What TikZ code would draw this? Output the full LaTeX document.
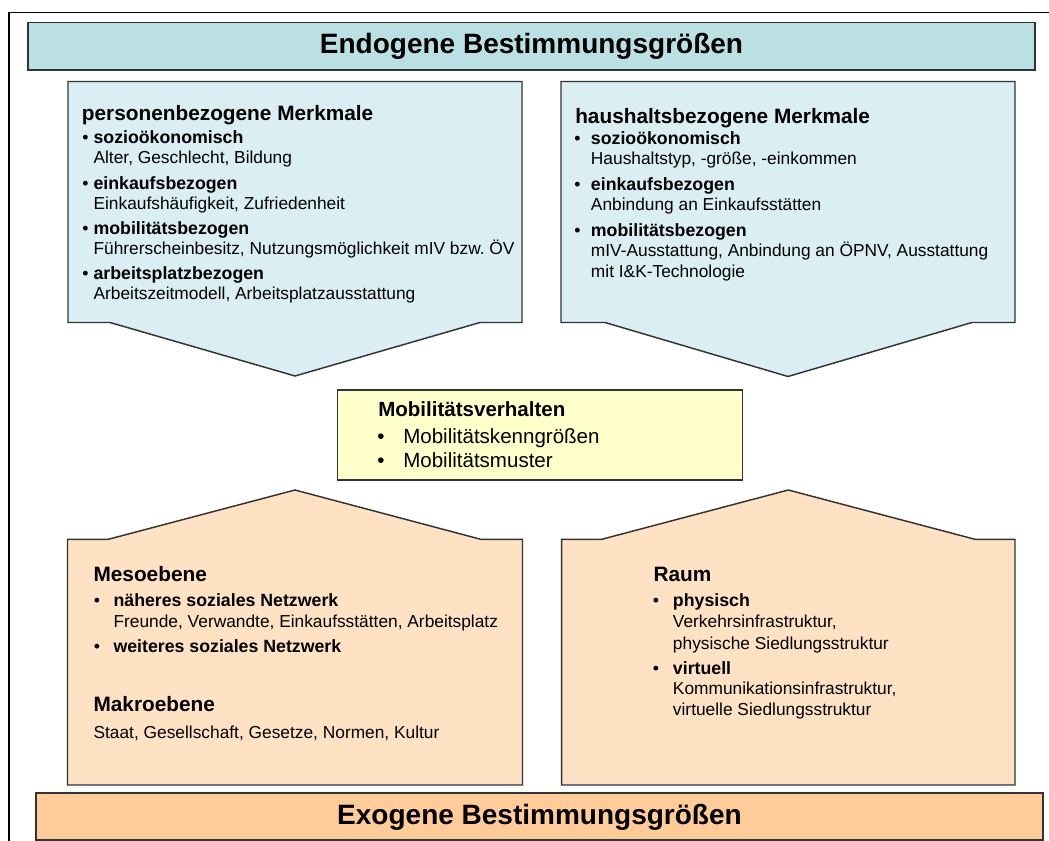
\documentclass[tikz,border=0pt]{standalone}
\usepackage{fontspec}
\setmainfont{Liberation Sans}
\frenchspacing
\definecolor{endoband}{HTML}{BBE0E3}
\definecolor{endobox}{HTML}{DAEEF3}
\definecolor{mobbox}{HTML}{FFFFCC}
\definecolor{exobox}{HTML}{FFE1C4}
\definecolor{exoband}{HTML}{FFCC99}
\definecolor{edge}{HTML}{333333}
\begin{document}
\begin{tikzpicture}[x=0.75pt,y=-0.75pt,
  panel/.style={draw=edge,line width=1.1pt,line join=miter},
  band/.style={draw=edge,line width=1.4pt},
  bandtitle/.style={inner sep=0,font=\fontsize{21}{25}\selectfont\bfseries},
  hdr/.style={anchor=base west,inner sep=0,font=\fontsize{15.6}{18}\selectfont\bfseries},
  itm/.style={anchor=base west,inner sep=0,font=\fontsize{13.3}{16}\selectfont\bfseries},
  txt/.style={anchor=base west,inner sep=0,font=\fontsize{13}{16}\selectfont},
  bul/.style={anchor=base,inner sep=0,font=\fontsize{13.3}{16}\selectfont},
  mhdr/.style={anchor=base west,inner sep=0,font=\fontsize{15.4}{18}\selectfont\bfseries},
  mtxt/.style={anchor=base west,inner sep=0,font=\fontsize{15.4}{18}\selectfont},
  mbul/.style={anchor=base,inner sep=0,font=\fontsize{15.4}{18}\selectfont}]
\useasboundingbox (0,0) rectangle (1049,841);

% outer frame (open at right and bottom)
\draw[line width=1.1pt] (9,841) -- (9,12.3) -- (1049,12.3);

% top band
\draw[band,fill=endoband] (28,22.5) rectangle (1035,70);
\node[bandtitle] (endo) at (531.5,46) {Endogene Bestimmungsgrößen};

% downward arrow panels
\draw[panel,fill=endobox] (68,81.5) -- (522,81.5) -- (522,322.5) -- (480,322.5)
  -- (295,376) -- (110,322.5) -- (68,322.5) -- cycle;
\draw[panel,fill=endobox] (561,81.5) -- (1015,81.5) -- (1015,322.5) -- (972,322.5)
  -- (788,376.5) -- (605,322.5) -- (561,322.5) -- cycle;

% person-related features
\node[hdr] (pers) at (81.7,120.7) {personenbezogene Merkmale};
\node[bul] (pb1) at (85.5,143.3) {•};
\node[itm] (pi1) at (93.3,143.3) {sozioökonomisch};
\node[txt] (pt1) at (93.3,164) {Alter, Geschlecht, Bildung};
\node[bul] (pb2) at (85.5,189.3) {•};
\node[itm] (pi2) at (93.3,189.3) {einkaufsbezogen};
\node[txt] (pt2) at (93.3,209.3) {Einkaufshäufigkeit, Zufriedenheit};
\node[bul] (pb3) at (85.5,235) {•};
\node[itm] (pi3) at (93.3,235) {mobilitätsbezogen};
\node[txt] (pt3) at (93.3,255) {Führerscheinbesitz, Nutzungsmöglichkeit mIV bzw. ÖV};
\node[bul] (pb4) at (85.5,280) {•};
\node[itm] (pi4) at (93.3,280) {arbeitsplatzbezogen};
\node[txt] (pt4) at (93.3,300) {Arbeitszeitmodell, Arbeitsplatzausstattung};

% household-related features
\node[hdr] (haus) at (575,123.3) {haushaltsbezogene Merkmale};
\node[bul] (hb1) at (577.5,144.3) {•};
\node[itm] (hi1) at (590.7,144.3) {sozioökonomisch};
\node[txt] (ht1) at (590.7,165) {Haushaltstyp, -größe, -einkommen};
\node[bul] (hb2) at (577.5,190.7) {•};
\node[itm] (hi2) at (590.7,190.7) {einkaufsbezogen};
\node[txt] (ht2) at (590.7,210.7) {Anbindung an Einkaufsstätten};
\node[bul] (hb3) at (577.5,236.7) {•};
\node[itm] (hi3) at (590.7,236.7) {mobilitätsbezogen};
\node[txt] (ht3a) at (590.7,256.7) {mIV-Ausstattung, Anbindung an ÖPNV, Ausstattung};
\node[txt] (ht3b) at (590.7,277.3) {mit I\&K-Technologie};

% central box
\draw[panel,fill=mobbox] (337.5,390) rectangle (742.5,480);
\node[mhdr] (mob) at (378,416.7) {Mobilitätsverhalten};
\node[mbul] (mb1) at (381,443) {•};
\node[mtxt] (mt1) at (403,443) {Mobilitätskenngrößen};
\node[mbul] (mb2) at (381,467) {•};
\node[mtxt] (mt2) at (403,467) {Mobilitätsmuster};

% upward arrow panels
\draw[panel,fill=exobox] (67.5,785) -- (67.5,539.3) -- (108.3,539.3) -- (295,490)
  -- (480.7,539.3) -- (522.5,539.3) -- (522.5,785) -- cycle;
\draw[panel,fill=exobox] (561.7,785) -- (561.7,539.3) -- (601.7,539.3) -- (788.3,490)
  -- (975,539.3) -- (1015,539.3) -- (1015,785) -- cycle;

% social levels
\node[hdr] (meso) at (93.3,581.7) {Mesoebene};
\node[bul] (mesob1) at (97,606.7) {•};
\node[itm] (mesoi1) at (113.3,606.7) {näheres soziales Netzwerk};
\node[txt] (mesot1) at (113.3,627.7) {Freunde, Verwandte, Einkaufsstätten, Arbeitsplatz};
\node[bul] (mesob2) at (97,652.3) {•};
\node[itm] (mesoi2) at (113.3,652.3) {weiteres soziales Netzwerk};
\node[hdr] (makro) at (93.3,711.7) {Makroebene};
\node[txt] (makrot) at (93.3,738.3) {Staat, Gesellschaft, Gesetze, Normen, Kultur};

% space
\node[hdr] (raum) at (653.3,581.7) {Raum};
\node[bul] (rb1) at (656,606.7) {•};
\node[itm] (ri1) at (672.7,606.7) {physisch};
\node[txt] (rt1a) at (672.7,627.7) {Verkehrsinfrastruktur,};
\node[txt] (rt1b) at (672.7,649) {physische Siedlungsstruktur};
\node[bul] (rb2) at (656,674.3) {•};
\node[itm] (ri2) at (672.7,674.3) {virtuell};
\node[txt] (rt2a) at (672.7,694.3) {Kommunikationsinfrastruktur,};
\node[txt] (rt2b) at (672.7,715) {virtuelle Siedlungsstruktur};

% bottom band
\draw[band,fill=exoband] (36,793.3) rectangle (1043.3,840);
\node[bandtitle] (exo) at (539.5,817.5) {Exogene Bestimmungsgrößen};
\end{tikzpicture}
\end{document}
